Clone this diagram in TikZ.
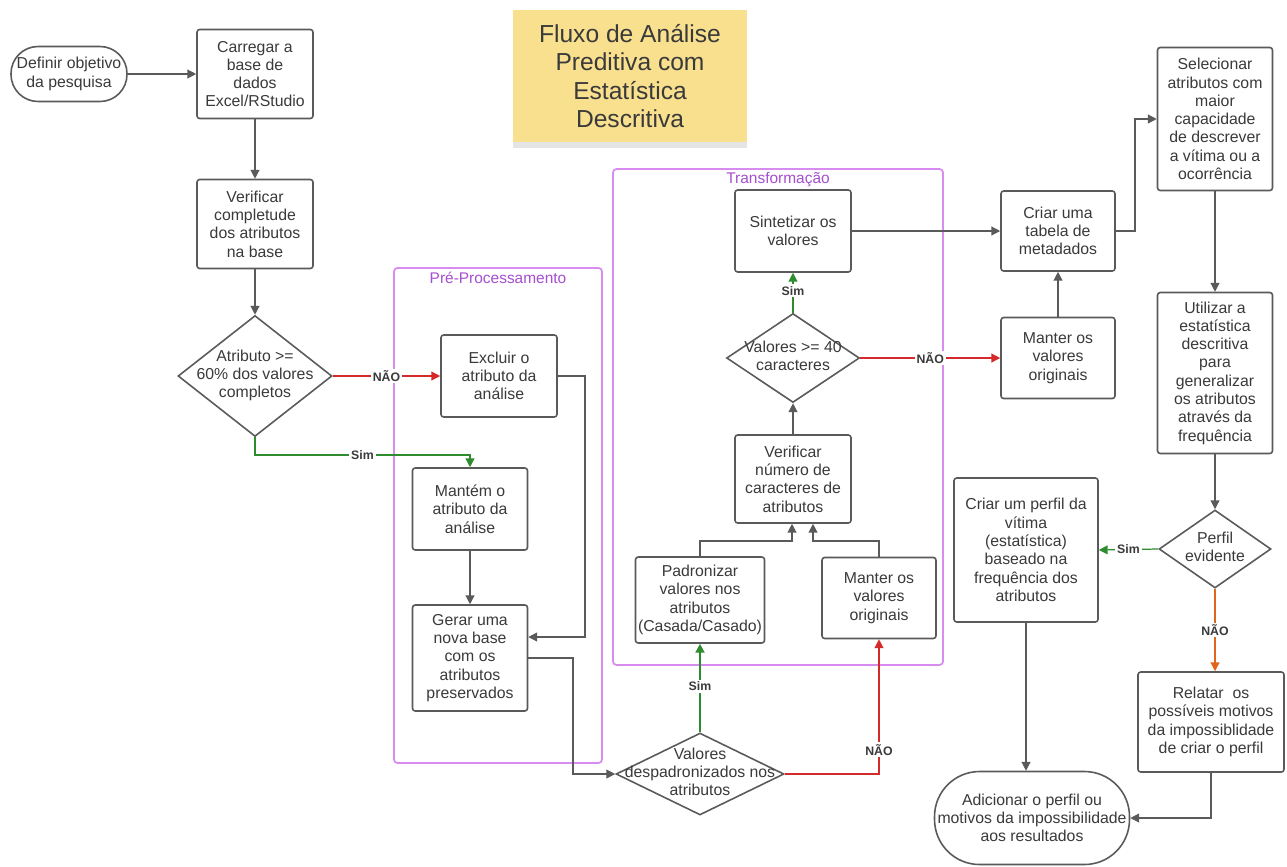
\documentclass[tikz,border=0pt]{standalone}
\usepackage{fontspec}
\setmainfont{Liberation Sans}
\usetikzlibrary{shapes.geometric,arrows.meta,shadows}
\definecolor{linegray}{HTML}{5A5A5A}
\definecolor{txtgray}{HTML}{3A3A3A}
\definecolor{simgreen}{HTML}{2E8B2E}
\definecolor{naored}{HTML}{D42A2A}
\definecolor{naoorange}{HTML}{E0661A}
\definecolor{grpline}{HTML}{D98CF0}
\definecolor{grptext}{HTML}{A64FD0}
\definecolor{notefill}{HTML}{F9E08F}
\newcommand\dtxt[1]{\makebox[0pt]{\begin{tabular}{@{}c@{}}#1\end{tabular}}}
\begin{document}
\begin{tikzpicture}[x=0.02cm,y=-0.02cm,
	box/.style={draw=linegray,line width=0.9pt,rounded corners=1.5pt,align=center,text=txtgray,font=\fontsize{9}{10.4}\selectfont,inner sep=1pt},
	pill/.style={box,rounded corners=0.54cm},
	bigpill/.style={box,rounded corners=0.9cm},
	dec/.style={draw=linegray,line width=0.9pt,diamond,inner sep=0pt,text=txtgray,font=\fontsize{9}{10.4}\selectfont},
	arr/.style={color=linegray,line width=0.7pt,-{Triangle[length=5pt,width=5pt]}},
	simarr/.style={arr,color=simgreen},
	naoarr/.style={arr,color=naored},
	lbl/.style={font=\fontsize{7}{8}\selectfont\bfseries,text=txtgray,fill=white,inner sep=1pt},
	grp/.style={draw=grpline,line width=1pt,rounded corners=2pt},
	grplbl/.style={text=grptext,font=\fontsize{8.8}{10}\selectfont}]
	\useasboundingbox (0,0) rectangle (1287,866);
	\fill[white] (0,0) rectangle (1287,866);

	\node[fill=notefill,minimum width=4.7cm,minimum height=2.66cm,align=center,text=txtgray,font=\fontsize{14}{16.2}\selectfont,
		drop shadow={shadow xshift=0pt,shadow yshift=-3pt,opacity=0.2}] (title) at (630,76) {Fluxo de Análise\\Preditiva com\\Estatística\\Descritiva};

	\draw[grp] (394,268) rectangle (602,763);
	\node[grplbl] (preproc) at (498,278) {Pré-Processamento};
	\draw[grp] (613,169) rectangle (943,665);
	\node[grplbl] (transf) at (778,180) {Transformação};

	\node[pill,minimum width=2.32cm,minimum height=1.1cm] (obj) at (69,74) {Definir objetivo\\da pesquisa};
	\node[box,minimum width=2.32cm,minimum height=1.78cm] (carregar) at (255,74) {Carregar a\\base de\\dados\\Excel/RStudio};
	\node[box,minimum width=2.32cm,minimum height=1.78cm] (verif) at (255,224) {Verificar\\completude\\dos atributos\\na base};
	\node[dec,minimum width=3.08cm,minimum height=2.42cm] (dec60) at (255,376) {\dtxt{Atributo >=\\60\% dos valores\\completos}};
	\node[box,minimum width=2.32cm,minimum height=1.64cm] (excluir) at (499,376) {Excluir o\\atributo da\\análise};
	\node[box,minimum width=2.3cm,minimum height=1.64cm] (mantem) at (470,509) {Mantém o\\atributo da\\análise};
	\node[box,minimum width=2.3cm,minimum height=2.12cm] (gerar) at (470,658) {Gerar uma\\nova base\\com os\\atributos\\preservados};
	\node[dec,minimum width=3.36cm,minimum height=1.64cm] (decpad) at (700,774) {\dtxt{Valores\\despadronizados nos\\atributos}};
	\node[box,minimum width=2.58cm,minimum height=1.72cm] (padron) at (700,600) {Padronizar\\valores nos\\atributos\\(Casada/Casado)};
	\node[box,minimum width=2.28cm,minimum height=1.62cm] (manterA) at (879,598) {Manter os\\valores\\originais};
	\node[box,minimum width=2.32cm,minimum height=1.76cm] (vernum) at (793,479) {Verificar\\número de\\caracteres de\\atributos};
	\node[dec,minimum width=2.66cm,minimum height=1.78cm] (dec40) at (793,358) {\dtxt{Valores >= 40\\caracteres}};
	\node[box,minimum width=2.32cm,minimum height=1.64cm] (sintet) at (793,231) {Sintetizar os\\valores};
	\node[box,minimum width=2.28cm,minimum height=1.6cm] (tabela) at (1058,231) {Criar uma\\tabela de\\metadados};
	\node[box,minimum width=2.28cm,minimum height=1.62cm] (manterB) at (1058,358) {Manter os\\valores\\originais};
	\node[box,minimum width=2.3cm,minimum height=2.86cm] (selec) at (1215,119) {Selecionar\\atributos com\\maior\\capacidade\\de descrever\\a vítima ou a\\ocorrência};
	\node[box,minimum width=2.3cm,minimum height=3.22cm] (utiliz) at (1215,373) {Utilizar a\\estatística\\descritiva\\para\\generalizar\\os atributos\\através da\\frequência};
	\node[dec,minimum width=2.24cm,minimum height=1.56cm] (decperfil) at (1215,549) {\dtxt{Perfil\\evidente}};
	\node[box,minimum width=2.88cm,minimum height=2.88cm] (perfil) at (1026,550) {Criar um perfil da\\vítima\\(estatística)\\baseado na\\frequência dos\\atributos};
	\node[box,minimum width=2.92cm,minimum height=2cm] (relatar) at (1211,722) {Relatar \ os\\possíveis motivos\\da impossiblidade\\de criar o perfil};
	\node[bigpill,minimum width=3.9cm,minimum height=1.86cm] (adicionar) at (1032,818) {Adicionar o perfil ou\\motivos da impossibilidade\\aos resultados};

	\coordinate (simA) at (470,455);
	\coordinate (exc) at (585,637);
	\coordinate (gx) at (573,700);
	\coordinate (jL) at (792,541);
	\coordinate (jR) at (813,541);
	\coordinate (tx) at (1135,119);

	\draw[arr] (obj) -- (carregar);
	\draw[arr] (carregar) -- (verif);
	\draw[arr] (verif) -- (dec60);
	\draw[naoarr] (dec60.east) -- node[lbl] {NÃO} (excluir.west);
	\draw[simarr] (dec60.south) |- node[lbl,pos=0.75] {Sim} (simA) -- (mantem.north);
	\draw[arr] (mantem) -- (gerar);
	\draw[arr] (excluir.east) -| (exc) -- (exc -| gerar.east);
	\draw[arr] (gerar.east) -| (gx) |- (decpad.west);
	\draw[simarr,line width=1.4pt] (decpad.north) -- node[lbl,pos=0.52] {Sim} (padron.south);
	\draw[naoarr] (decpad.east) -| node[lbl,pos=0.59] {NÃO} (manterA.south);
	\draw[arr] (padron.north) |- (jL) -- (jL |- vernum.south);
	\draw[arr] (manterA.north) |- (jR) -- (jR |- vernum.south);
	\draw[arr] (vernum) -- (dec40);
	\draw[simarr] (dec40.north) -- node[lbl,pos=0.55] {Sim} (sintet.south);
	\draw[naoarr] (dec40.east) -- node[lbl] {NÃO} (manterB.west);
	\draw[arr] (sintet) -- (tabela);
	\draw[arr] (manterB) -- (tabela);
	\draw[arr] (tabela.east) -| (tx) -- (selec.west);
	\draw[arr] (selec) -- (utiliz);
	\draw[arr] (utiliz) -- (decperfil);
	\draw[simarr] (decperfil.west) -- node[lbl] {Sim} (perfil.east);
	\draw[arr,color=naoorange] (decperfil.south) -- node[lbl] {NÃO} (decperfil.south |- relatar.north);
	\draw[arr] (perfil.south) -- (perfil.south |- adicionar.north);
	\draw[arr] (relatar.south) |- (adicionar.east);
\end{tikzpicture}
\end{document}
